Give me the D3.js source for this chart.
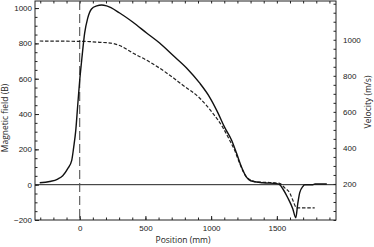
<!DOCTYPE html>
<html>
<head>
<meta charset="utf-8">
<script src="https://cdn.jsdelivr.net/npm/d3@7"></script>
<style>
  body { margin: 0; background: #fff; }
  svg { display: block; font-family: "Open Sans", sans-serif; }
  .tick text { font-size: 8px; fill: #222; }
  .tick line { stroke: #222; }
</style>
</head>
<body>
<svg id="chart" width="374" height="247"></svg>
<script>
// magnetic field (left axis), position in mm
const fieldPos = [-304, -228, -167, -129, -91, -61, -46, -30, -15, 0, 15, 38, 60, 90, 130, 167, 205, 304, 403, 509, 608, 707, 813, 912, 988, 1049, 1102, 1155, 1193, 1231, 1269, 1300, 1393, 1500, 1522, 1545, 1583, 1621, 1644, 1659, 1674, 1697, 1712, 1773, 1790, 1880];
const fieldVal = [11, 18, 32, 51, 91, 136, 210, 306, 450, 590, 703, 860, 940, 995, 1012, 1017, 1012, 972, 921, 859, 802, 734, 661, 576, 496, 411, 326, 253, 179, 100, 43, 22, 11, 6, 0, -23, -74, -136, -187, -108, -45, -11, 0, 0, 4, 4];

// velocity (right axis), dashed
const velPos = [-304, 76, 99, 152, 251, 304, 403, 532, 661, 783, 912, 1011, 1087, 1140, 1178, 1216, 1269, 1347, 1446, 1522, 1560, 1598, 1621, 1644, 1651, 1788];
const velVal = [993, 990, 988, 986, 980, 968, 927, 877, 816, 749, 677, 594, 516, 444, 388, 316, 239, 211, 208, 203, 178, 150, 111, 72, 67, 67];

const fieldTicks = [-200, 0, 200, 400, 600, 800, 1000];
const velTicks = [200, 400, 600, 800, 1000];
const posTicks = [0, 500, 1000, 1500];

const svg = d3.select('#chart');

const x = d3.scaleLinear().domain([-340, 1950]).range([35, 336]);
const yB = d3.scaleLinear().domain([-200, 1040]).range([220, 1]);
const yV = d3.scaleLinear().domain([0, 1215]).range([220, 1]);

const fmt = d3.format('d');
const noDomain = g => g.select('.domain').remove();

// minor ticks
svg.append('g').attr('transform', 'translate(35,0)')
  .call(d3.axisLeft(yB).tickValues(d3.range(-200, 1041, 50)).tickSize(-2.5).tickFormat(''))
  .call(noDomain);
svg.append('g').attr('transform', 'translate(336,0)')
  .call(d3.axisRight(yV).tickValues(d3.range(0, 1201, 50)).tickSize(-2.5).tickFormat(''))
  .call(noDomain);
svg.append('g').attr('transform', 'translate(0,220)')
  .call(d3.axisBottom(x).tickValues(d3.range(-300, 1901, 100)).tickSize(-2.5).tickFormat(''))
  .call(noDomain);
svg.append('g').attr('transform', 'translate(0,1)')
  .call(d3.axisTop(x).tickValues(d3.range(-300, 1901, 100)).tickSize(-2.5).tickFormat(''))
  .call(noDomain);

// major ticks + labels
svg.append('g').attr('transform', 'translate(35,0)')
  .call(d3.axisLeft(yB).tickValues(fieldTicks).tickSize(-4).tickPadding(3).tickFormat(fmt))
  .call(noDomain);
svg.append('g').attr('transform', 'translate(336,0)')
  .call(d3.axisRight(yV).tickValues(velTicks).tickSize(0).tickPadding(7).tickFormat(fmt))
  .call(noDomain);
svg.append('g').attr('transform', 'translate(0,220)')
  .call(d3.axisBottom(x).tickValues(posTicks).tickSize(-4).tickPadding(5).tickFormat(fmt))
  .call(noDomain);

// frame
svg.append('rect')
  .attr('x', 35).attr('y', 1).attr('width', 301).attr('height', 219)
  .attr('fill', 'none').attr('stroke', '#222').attr('stroke-width', 1);

// zero line
svg.append('line')
  .attr('x1', x.range()[0]).attr('x2', x.range()[1])
  .attr('y1', yB(0)).attr('y2', yB(0))
  .attr('stroke', '#222').attr('stroke-width', 1);

// x = 0 marker
svg.append('line')
  .attr('x1', x(0)).attr('x2', x(0))
  .attr('y1', 1).attr('y2', 220)
  .attr('stroke', '#555').attr('stroke-width', 1.1)
  .attr('stroke-dasharray', '9,4');

const fieldLine = d3.line()
  .x((d, i) => x(fieldPos[i]))
  .y(d => yB(d))
  .curve(d3.curveMonotoneX);

const velLine = d3.line()
  .x((d, i) => x(velPos[i]))
  .y(d => yV(d))
  .curve(d3.curveMonotoneX);

svg.append('path')
  .attr('d', velLine(velVal))
  .attr('fill', 'none').attr('stroke', '#222').attr('stroke-width', 1.2)
  .attr('stroke-dasharray', '3.5,1.8');

svg.append('path')
  .attr('d', fieldLine(fieldVal))
  .attr('fill', 'none').attr('stroke', '#111').attr('stroke-width', 1.4);

// axis titles
svg.append('text')
  .attr('transform', 'translate(8,118) rotate(-90)')
  .attr('text-anchor', 'middle').attr('font-size', 8.5).attr('fill', '#222')
  .text('Magnetic field (B)');

svg.append('text')
  .attr('transform', 'translate(371,102) rotate(-90)')
  .attr('text-anchor', 'middle').attr('font-size', 8.5).attr('fill', '#222')
  .text('Velocity (m/s)');

svg.append('text')
  .attr('x', 183).attr('y', 243)
  .attr('text-anchor', 'middle').attr('font-size', 8.5).attr('fill', '#222')
  .text('Position (mm)');
</script>
</body>
</html>
